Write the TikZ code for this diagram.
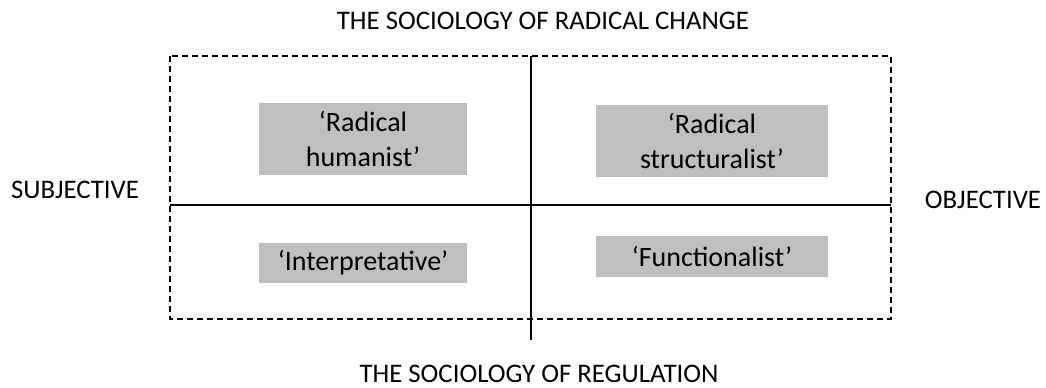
\documentclass[tikz,border=0pt]{standalone}
\usepackage{fontspec}
\setmainfont{Carlito}
\usepackage{tikz}

\tikzset{
	quad/.style={fill=black!25, inner sep=0pt, align=center, font=\fontsize{14}{17.5}\selectfont},
	axis/.style={font=\fontsize{13.4}{16}\selectfont}
}

\begin{document}
\begin{tikzpicture}[x=0.5pt, y=-0.5pt]
	\useasboundingbox (0,0) rectangle (1046,387);
	
	\node[quad, minimum width=104pt, minimum height=36pt] (rh) at (363,139) {`Radical\\humanist'};
	\node[quad, minimum width=116pt, minimum height=36pt] (rs) at (712,141) {`Radical\\structuralist'};
	\node[quad, minimum width=104pt, minimum height=20pt] (in) at (363,263) {`Interpretative'};
	\node[quad, minimum width=116pt, minimum height=20.5pt] (fu) at (712,256.5) {`Functionalist'};
	
	\node[axis] (top) at (543,21) {THE SOCIOLOGY OF RADICAL CHANGE};
	\node[axis] (bot) at (539,374) {THE SOCIOLOGY OF REGULATION};
	\node[axis] (subj) at (75,190) {SUBJECTIVE};
	\node[axis] (obj) at (983,200) {OBJECTIVE};
	
	\coordinate (nw) at (170,56);
	\coordinate (se) at (891,319);
	\coordinate (n) at (531,56);
	\coordinate (s) at (531,340);
	\coordinate (w) at (170,205);
	\coordinate (e) at (891,205);
	
	\draw[dash pattern=on 3pt off 2pt, line width=1pt] (nw) rectangle (se);
	\draw[line width=1pt] (n) -- (s);
	\draw[line width=1pt] (w) -- (e);
\end{tikzpicture}
\end{document}
